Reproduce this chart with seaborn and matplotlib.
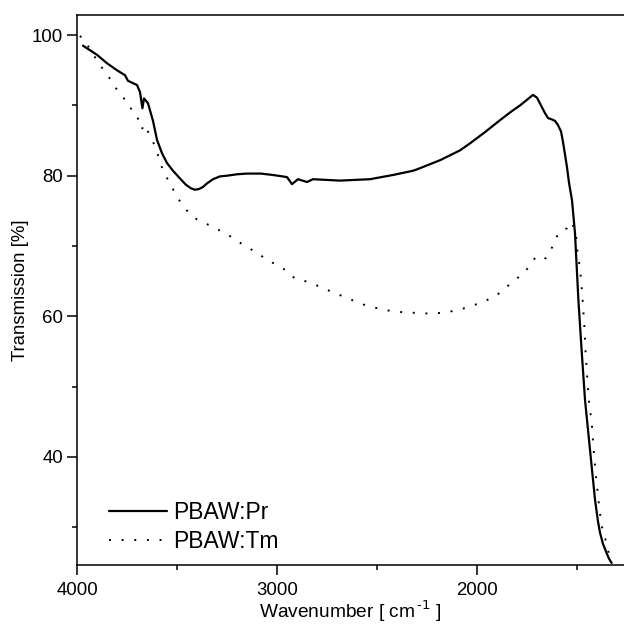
import numpy as np
import pandas as pd
import matplotlib
matplotlib.use("Agg")
import matplotlib.pyplot as plt
import seaborn as sns

# PBAW:Pr (solid)
pr_x = [3970, 3900, 3850, 3800, 3760, 3745, 3700, 3685, 3673, 3665, 3645, 3620,
        3600, 3575, 3550, 3520, 3485, 3455, 3430, 3410, 3390, 3370, 3350, 3320,
        3285, 3250, 3200, 3150, 3080, 3020, 2950, 2925, 2895, 2850, 2820, 2685,
        2535, 2420, 2320, 2300, 2185, 2085, 2035, 1960, 1885, 1830, 1785, 1750,
        1720, 1700, 1680, 1660, 1645, 1625, 1610, 1595, 1580, 1570, 1560, 1550,
        1540, 1525, 1510, 1493, 1477, 1460, 1435, 1410, 1395, 1385, 1370, 1352,
        1340, 1327]
pr_y = [98.5, 97.2, 96.0, 95.0, 94.3, 93.5, 92.9, 91.9, 89.6, 91.0, 90.3, 87.8,
        85.1, 83.2, 81.8, 80.7, 79.6, 78.7, 78.2, 78.0, 78.1, 78.4, 78.9, 79.5,
        79.9, 80.0, 80.2, 80.3, 80.3, 80.1, 79.8, 78.8, 79.5, 79.1, 79.5, 79.3,
        79.5, 80.1, 80.7, 80.9, 82.2, 83.6, 84.6, 86.2, 87.9, 89.1, 90.0, 90.8,
        91.5, 91.1, 90.0, 88.9, 88.2, 88.0, 87.8, 87.2, 86.3, 84.8, 83.0, 81.2,
        79.0, 76.5, 71.8, 62.3, 55.2, 48.1, 41.0, 33.9, 30.8, 29.2, 27.6, 26.3,
        25.5, 24.9]

# PBAW:Tm (dotted)
tm_x = [3985, 3950, 3885, 3850, 3815, 3765, 3745, 3715, 3695, 3675, 3665, 3640,
        3615, 3590, 3570, 3535, 3500, 3465, 3420, 3375, 3325, 3280, 3235, 3200,
        3145, 3090, 3035, 2980, 2940, 2912, 2860, 2818, 2762, 2702, 2668, 2608,
        2552, 2492, 2440, 2385, 2322, 2265, 2210, 2143, 2080, 2022, 1967, 1918,
        1872, 1850, 1810, 1770, 1730, 1710, 1680, 1655, 1630, 1610, 1575, 1550,
        1525, 1505, 1500, 1490, 1482, 1477, 1472, 1463, 1457, 1448, 1438, 1427,
        1418, 1407, 1393, 1378, 1360, 1343, 1327]
tm_y = [99.9, 98.7, 95.7, 94.5, 92.8, 91.0, 89.8, 89.3, 88.1, 86.6, 87.3, 86.0,
        84.5, 82.5, 80.7, 78.9, 77.0, 75.5, 74.1, 73.4, 72.8, 72.1, 71.4, 70.7,
        69.8, 68.8, 67.8, 67.0, 66.2, 65.4, 65.0, 64.6, 63.9, 63.2, 62.8, 62.1,
        61.5, 61.1, 60.8, 60.6, 60.5, 60.4, 60.4, 60.6, 61.0, 61.5, 62.1, 62.7,
        63.6, 64.2, 65.2, 66.0, 67.4, 68.3, 67.9, 68.3, 69.4, 71.0, 72.3, 72.5,
        73.4, 71.6, 69.7, 67.7, 65.9, 64.2, 62.3, 58.5, 54.8, 50.9, 47.1, 45.2,
        41.4, 37.7, 33.9, 30.3, 28.5, 26.5, 24.9]

df_pr = pd.DataFrame({"wn": pr_x, "T": pr_y})
df_tm = pd.DataFrame({"wn": tm_x, "T": tm_y})

sns.set_style("ticks", {"axes.edgecolor": "black", "text.color": "black",
                        "xtick.color": "black", "ytick.color": "black",
                        "axes.labelcolor": "black"})
plt.rcParams["font.family"] = ["Liberation Sans", "DejaVu Sans"]
plt.rcParams["axes.linewidth"] = 1.1

fig = plt.figure(figsize=(6.24, 6.31), dpi=100)
ax = fig.add_axes([0.1234, 0.1046, 0.8766, 0.872])

sns.lineplot(data=df_pr, x="wn", y="T", sort=False, color="black", lw=1.6,
             ax=ax, label="PBAW:Pr")
sns.lineplot(data=df_tm, x="wn", y="T", sort=False, color="black", lw=1.4,
             ax=ax, label="PBAW:Tm", linestyle=(0, (1, 5.5)))

ax.set_xlim(4000, 1265)
ax.set_ylim(24.6, 102.9)
ax.set_xticks([4000, 3000, 2000])
ax.set_xticks([3500, 2500, 1500], minor=True)
ax.set_yticks([40, 60, 80, 100])
ax.set_yticks([30, 50, 70, 90], minor=True)
ax.tick_params(which="major", length=7, width=1.1, labelsize=13.4, direction="out")
ax.tick_params(axis="x", which="major", pad=5)
ax.tick_params(axis="y", which="major", pad=3)
ax.tick_params(which="minor", length=3.5, width=1.1, direction="out")
ax.spines["right"].set_visible(False)

ax.set_xlabel("Wavenumber [ cm$^{\\,\\text{-}1}$ ]", fontsize=13.8, labelpad=0)
ax.set_ylabel("Transmission [%]", fontsize=13.4, labelpad=2)

leg = ax.legend(loc="lower left", frameon=False, fontsize=16.5, handlelength=2.55,
                bbox_to_anchor=(0.02, -0.016), labelspacing=0.25, handletextpad=0.25)

fig.savefig("out.png", dpi=100)
